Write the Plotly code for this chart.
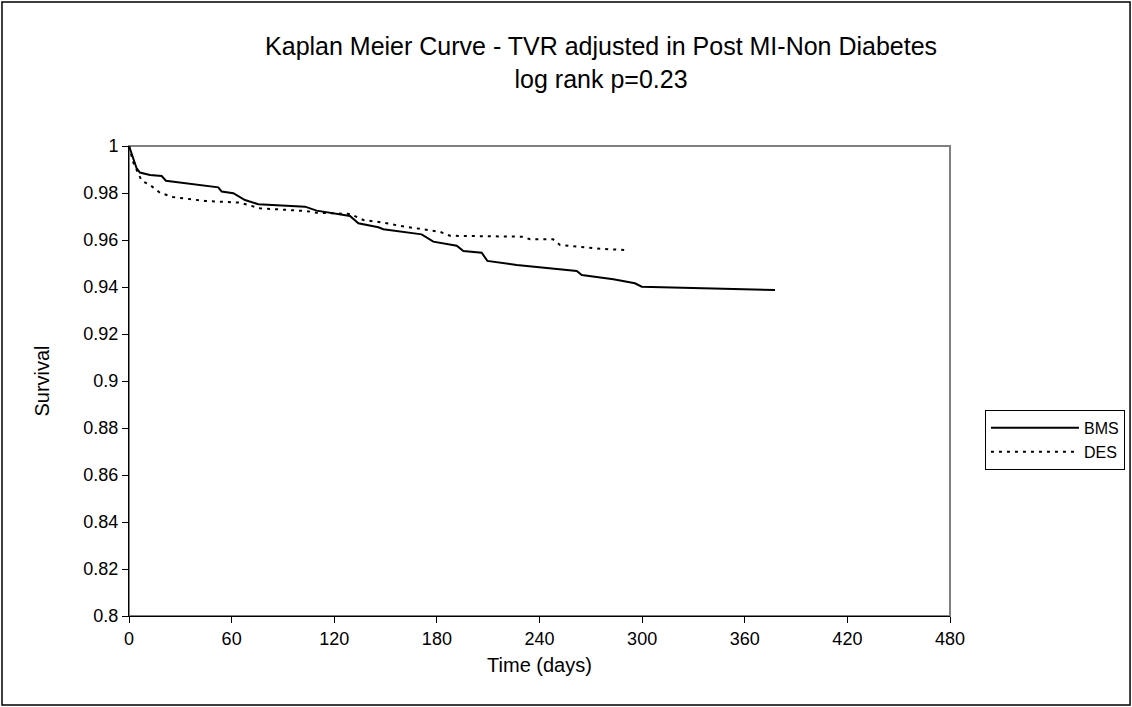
import plotly.graph_objects as go

# ---- data ----
bms_days = [0, 1.2, 2.9, 4.4, 6.4, 12.3, 19.1, 21.6, 52.2, 54.2, 61.0, 67.8, 75.6, 102.9, 109.7,
            129.2, 134.1, 145.8, 148.7, 171.1, 177.9, 191.6, 195.5, 206.2, 209.5, 226.7, 261.8,
            264.7, 283.2, 295.8, 299.8, 377.7]
bms_surv = [1.0, 0.9974, 0.9932, 0.9906, 0.9887, 0.9877, 0.9872, 0.9852, 0.9824, 0.9806, 0.9799,
            0.9770, 0.9752, 0.9742, 0.9725, 0.9702, 0.9671, 0.9654, 0.9646, 0.9624, 0.9593, 0.9576,
            0.9553, 0.9546, 0.9511, 0.9494, 0.9468, 0.9451, 0.9433, 0.9416, 0.9401, 0.9387]

des_days = [0, 2.5, 7.4, 12.3, 18.1, 25.7, 44.4, 64.9, 76.6, 103.9, 109.7, 129.2, 137.0, 148.7,
            158.4, 168.2, 181.8, 187.7, 230.4, 234.4, 247.9, 252.0, 263.7, 277.1, 291.0]
des_surv = [1.0, 0.993, 0.9852, 0.9834, 0.9801, 0.9783, 0.9766, 0.9759, 0.9735, 0.9723, 0.9716,
            0.9711, 0.9685, 0.9674, 0.9660, 0.9650, 0.9635, 0.9618, 0.9614, 0.9603, 0.9603,
            0.9579, 0.9571, 0.9562, 0.9557]

x_ticks = [0, 60, 120, 180, 240, 300, 360, 420, 480]
y_ticks = [0.8, 0.82, 0.84, 0.86, 0.88, 0.9, 0.92, 0.94, 0.96, 0.98, 1]
y_tick_text = ["0.8", "0.82", "0.84", "0.86", "0.88", "0.9", "0.92", "0.94", "0.96", "0.98", "1"]

FONT = "Liberation Sans, Arial, sans-serif"

fig = go.Figure()
fig.add_trace(go.Scatter(x=bms_days, y=bms_surv, mode="lines", name="BMS",
                         line=dict(color="black", width=2)))
fig.add_trace(go.Scatter(x=des_days, y=des_surv, mode="lines", name="DES",
                         line=dict(color="black", width=2, dash="3px,5px")))

fig.update_layout(
    width=1132, height=707,
    margin=dict(l=129, r=182, t=146, b=91, autoexpand=False),
    paper_bgcolor="white", plot_bgcolor="white",
    font=dict(family=FONT, color="black", size=18),
    title=dict(text="Kaplan Meier Curve - TVR adjusted in Post MI-Non Diabetes<br>log rank p=0.23",
               x=0.531, xanchor="center", yref="container", y=0.9215, yanchor="middle",
               font=dict(family=FONT, size=25, color="black")),
    showlegend=True,
    legend=dict(xref="container", x=0.8701, xanchor="left",
                yref="container", y=0.3777, yanchor="middle",
                bordercolor="black", borderwidth=1, bgcolor="white",
                font=dict(family=FONT, size=16, color="black"),
                itemwidth=88, tracegroupgap=0),
    xaxis=dict(range=[0, 480], tickmode="array", tickvals=x_ticks,
               ticktext=[str(v) for v in x_ticks], automargin=False,
               showgrid=False, zeroline=False, showline=True, linecolor="black", linewidth=1,
               ticks="outside", ticklen=6, tickcolor="black",
               title=dict(text="Time (days)", font=dict(family=FONT, size=20), standoff=10),
               tickfont=dict(family=FONT, size=18)),
    yaxis=dict(range=[0.8, 1.0], tickmode="array", tickvals=y_ticks, ticktext=y_tick_text,
               automargin=False,
               showgrid=False, zeroline=False, showline=True, linecolor="black", linewidth=1,
               ticks="outside", ticklen=6, tickcolor="black",
               title=dict(text="Survival", font=dict(family=FONT, size=20), standoff=28),
               tickfont=dict(family=FONT, size=18)),
    shapes=[
        dict(type="rect", xref="paper", yref="paper", x0=0, x1=1, y0=0, y1=1,
             line=dict(color="#808080", width=2), layer="below"),
        dict(type="rect", xref="paper", yref="paper",
             x0=-0.1547, x1=1.2193, y0=-0.1894, y1=1.3064,
             line=dict(color="black", width=1.5), layer="below"),
    ],
)

fig.write_html("out.html")
